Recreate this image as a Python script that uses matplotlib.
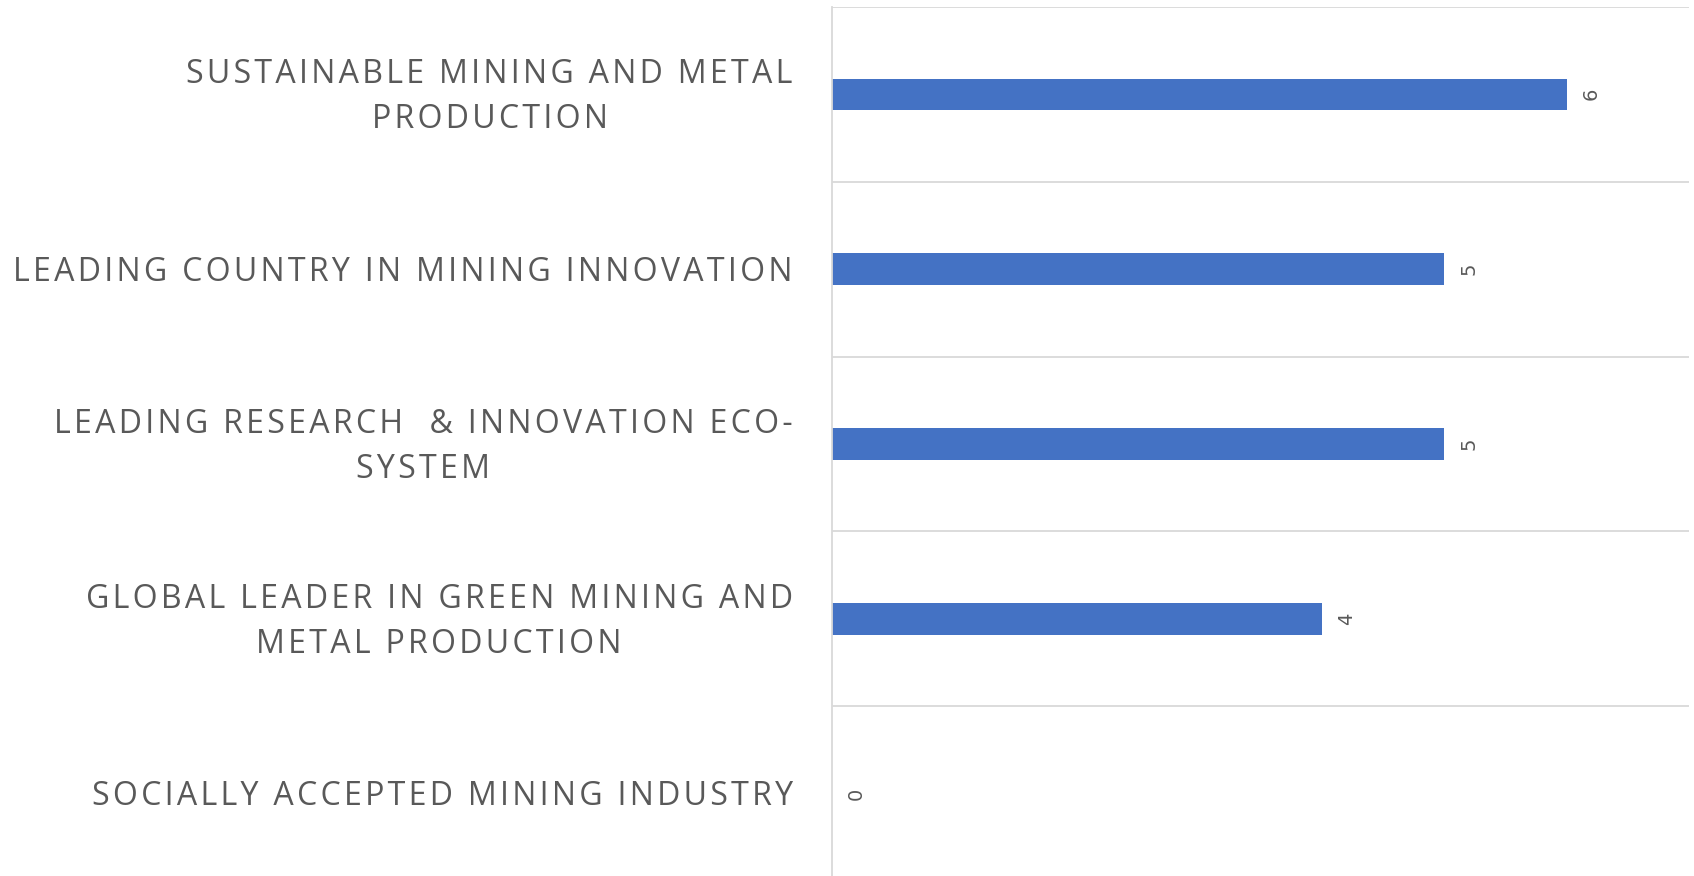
import matplotlib
matplotlib.use("Agg")
from matplotlib import pyplot as plt
from matplotlib.transforms import ScaledTranslation

# categories top to bottom, and the counts shown on the bars
categories = [
    "SUSTAINABLE MINING AND METAL\nPRODUCTION",
    "LEADING COUNTRY IN MINING INNOVATION",
    "LEADING RESEARCH  & INNOVATION ECO-\nSYSTEM",
    "GLOBAL LEADER IN GREEN MINING AND\nMETAL PRODUCTION",
    "SOCIALLY ACCEPTED MINING INDUSTRY",
]
counts = [6, 5, 5, 4, 0]

grey = "#595959"
gridgrey = "#d9d9d9"


def spaced(label):
    # wide letter spacing: hair space between letters, line by line
    return "\n".join("\u200a".join(line) for line in label.split("\n"))


fig = plt.figure(figsize=(16.94, 8.76), dpi=100)
ax = fig.add_axes([0.4909, -0.0061, 0.5062, 0.9985])

pos = list(range(len(categories)))
ax.barh(pos, counts, height=0.178, color="#4472C4")

ax.set_xlim(0, 7)
ax.set_ylim(len(categories) - 0.5, -0.5)

# band separators instead of tick gridlines
for b in range(len(categories) + 1):
    ax.axhline(b - 0.5, color=gridgrey, lw=1.3, zorder=0)

for s in ["top", "right", "bottom"]:
    ax.spines[s].set_visible(False)
ax.spines["left"].set_color(gridgrey)
ax.spines["left"].set_linewidth(1.3)

ax.set_xticks([])
ax.set_yticks(pos)
ax.set_yticklabels([spaced(c) for c in categories], fontsize=23.15, color=grey,
                   family=["Open Sans", "DejaVu Sans"], va="center",
                   linespacing=1.47, multialignment="center")
ax.tick_params(axis="y", length=0, pad=28)
# nudge the labels down a few pixels
shift = ScaledTranslation(0, -0.03, fig.dpi_scale_trans)
for lab in ax.get_yticklabels():
    lab.set_transform(lab.get_transform() + shift)

for p, v in zip(pos, counts):
    ax.annotate(str(v), (v, p), xytext=(18, 0), textcoords="offset points",
                ha="center", va="center", rotation=90, fontsize=14, color=grey)

fig.savefig("out.png", dpi=100)
